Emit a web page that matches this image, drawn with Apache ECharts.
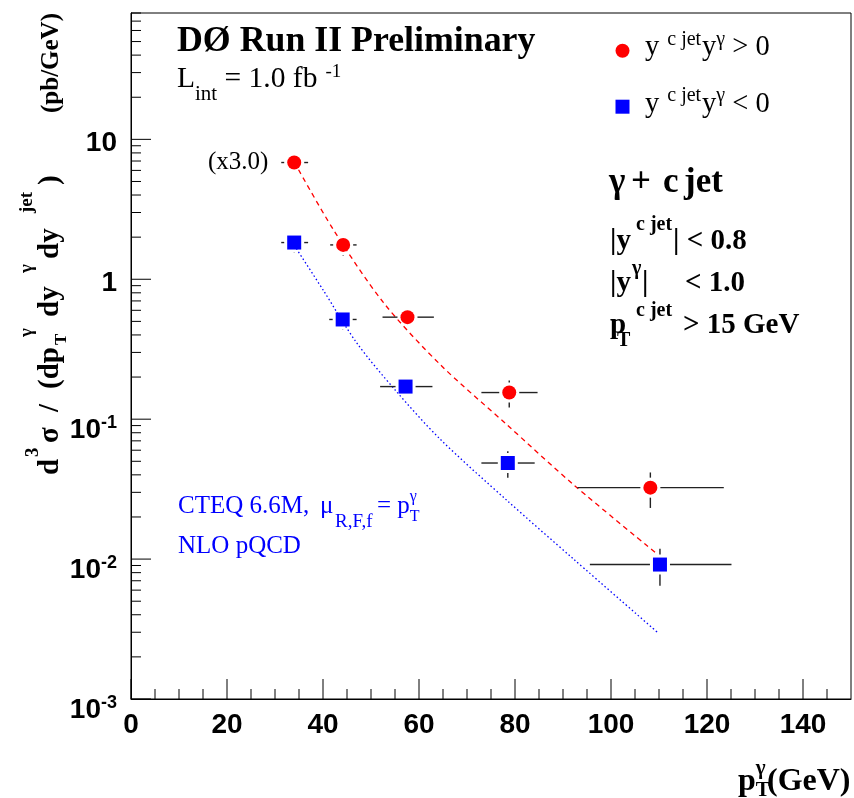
<!DOCTYPE html>
<html>
<head>
<meta charset="utf-8">
<script src="https://cdn.jsdelivr.net/npm/echarts@6/dist/echarts.min.js"></script>
<style>
  html, body { margin: 0; padding: 0; background: #fff; }
  #chart { width: 854px; height: 798px; }
</style>
</head>
<body>
<div id="chart"></div>
<script>
// measured points, y^{c jet} y^gamma > 0 (red) and < 0 (blue)
var redX = [34.0, 44.2, 57.6, 78.8, 108.2];
var redY = [6.83, 1.76, 0.536, 0.155, 0.0324];
var redXLo = [31.3, 41.5, 52.4, 73.0, 93.0];
var redXHi = [36.9, 47.0, 63.1, 84.7, 123.5];
var redYErr = [1.0, 0.28, 0.07, 0.034, 0.0092];

var blueX = [34.0, 44.1, 57.2, 78.5, 110.2];
var blueY = [1.83, 0.516, 0.171, 0.0486, 0.00914];
var blueXLo = [31.3, 41.3, 51.9, 73.0, 95.6];
var blueXHi = [36.9, 47.0, 62.8, 84.1, 125.1];
var blueYErr = [0.28, 0.08, 0.025, 0.0105, 0.0027];

// NLO pQCD curves
var redCurveX = [34.0, 42.1, 52.6, 64.4, 78.3, 92.2, 109.6];
var redCurveY = [6.9, 2.28, 0.681, 0.246, 0.0914, 0.034, 0.0109];
var blueCurveX = [34.0, 40.1, 47.0, 55.0, 64.4, 78.3, 92.2, 109.9];
var blueCurveY = [1.75, 0.83, 0.352, 0.162, 0.072, 0.0263, 0.0100, 0.00295];

// axis ticks
var xMajorTicks = [0, 20, 40, 60, 80, 100, 120, 140];
var xMinorTicks = [];
for (var t = 5; t < 150; t += 5) if (t % 20 !== 0) xMinorTicks.push(t);
var yDecades = [-3, -2, -1, 0, 1];
var yMax = 80;

var dom = document.getElementById('chart');
var myChart = echarts.init(dom);

function pairs(xs, ys) {
    return xs.map(function (x, i) { return [x, ys[i]]; });
}
function bars(xs, ys, lo, hi, err) {
    return xs.map(function (x, i) { return [x, ys[i], lo[i], hi[i], ys[i] - err[i], ys[i] + err[i]]; });
}

var tickData = [];
xMajorTicks.forEach(function (v) { tickData.push([v, 0.001, 20, 0]); });
xMinorTicks.forEach(function (v) { tickData.push([v, 0.001, 10, 0]); });
yDecades.forEach(function (e) {
    for (var m = 1; m <= 9; m++) {
        var v = m * Math.pow(10, e);
        if (v <= yMax) tickData.push([0, v, m === 1 ? 20 : 10, 1]);
    }
});

// text with sub/superscripts, baseline at (x, y)
var meas = document.createElement('canvas').getContext('2d');
function textWidth(t, size, bold, fam) {
    meas.font = (bold ? 'bold ' : '') + size + 'px "' + fam + '"';
    return meas.measureText(t).width;
}
function latex(x, y, parts, opt) {
    var fam = opt.font || 'Liberation Serif';
    var cx = 0, held = 0;
    var kids = [];
    parts.forEach(function (p) {
        var s = p.s || opt.size;
        var bold = p.bold !== undefined ? p.bold : !!opt.bold;
        if (p.x !== undefined) cx = p.x;
        cx += p.dx || 0;
        var w = textWidth(p.t, s, bold, fam);
        kids.push({
            type: 'text', x: cx, y: -(p.dy || 0) - 0.34 * s,
            style: {
                text: p.t, fontSize: s, fontFamily: fam,
                fontWeight: bold ? 'bold' : 'normal',
                fill: opt.color || '#000', align: 'left', verticalAlign: 'middle'
            }
        });
        if (p.keep) { held = Math.max(held, w); } else { cx += Math.max(w, held); held = 0; }
    });
    return { type: 'group', x: x, y: y, rotation: opt.rot || 0, children: kids };
}

var texts = [
    latex(177, 53.5, [{ t: 'DØ Run II Preliminary' }], { size: 35.8, bold: true }),
    latex(177, 89, [
        { t: 'L' }, { t: 'int', s: 21, dy: -13 },
        { t: ' = 1.0 fb' }, { t: '-1', s: 19, dy: 11, dx: 8 }
    ], { size: 29.5 }),
    latex(645, 57.5, [
        { t: 'y' }, { t: 'c jet', s: 20, dy: 11, dx: 8 },
        { t: 'y', dx: 1 }, { t: 'γ', s: 20, dy: 11 }, { t: ' > 0' }
    ], { size: 28.5 }),
    latex(645, 114, [
        { t: 'y' }, { t: 'c jet', s: 20, dy: 11, dx: 8 },
        { t: 'y', dx: 1 }, { t: 'γ', s: 20, dy: 11 }, { t: ' < 0' }
    ], { size: 28.5 }),
    latex(609, 195, [
        { t: 'γ', x: 0 }, { t: '+', x: 22 }, { t: 'c', x: 54 }, { t: 'jet', x: 75 }
    ], { size: 35, bold: true }),
    latex(610, 251.5, [
        { t: '|y', x: 0 }, { t: 'c jet', s: 20, dy: 20, x: 26 }, { t: '| < 0.8', x: 63 }
    ], { size: 29, bold: true }),
    latex(610, 293.5, [
        { t: '|y', x: 0 }, { t: 'γ', s: 20, dy: 18, x: 22 }, { t: '|', x: 32 }, { t: '< 1.0', x: 75 }
    ], { size: 29, bold: true }),
    latex(610, 335, [
        { t: 'p', x: 0 }, { t: 'T', s: 20, dy: -13, x: 7 }, { t: 'c jet', s: 20, dy: 17, x: 26 },
        { t: '> 15 GeV', x: 73 }
    ], { size: 29, bold: true }),
    latex(208, 170.5, [{ t: '(x3.0)' }], { size: 25 }),
    latex(178, 515, [
        { t: 'CTEQ 6.6M,' }, { t: 'μ', x: 142 }, { t: 'R,F,f', s: 19, dy: -13, x: 157 },
        { t: '= p', x: 199 }, { t: 'T', s: 16, dy: -7, keep: true }, { t: 'γ', s: 16, dy: 13 }
    ], { size: 25, color: '#0000ff' }),
    latex(178, 555, [{ t: 'NLO pQCD' }], { size: 25, color: '#0000ff' }),
    latex(738, 793, [
        { t: 'p' }, { t: 'T', s: 21, dy: -5, keep: true }, { t: 'γ', s: 21, dy: 17 },
        { t: '(GeV)', x: 29 }
    ], { size: 32, bold: true }),
    latex(60, 475, [
        { t: 'd', x: 0 }, { t: '3', s: 19, dy: 20, x: 18 }, { t: 'σ', x: 32 }, { t: '/', x: 63 },
        { t: '(dp', x: 86 }, { t: 'T', s: 17, dy: -7, x: 130 }, { t: 'γ', s: 19, dy: 26, x: 138 },
        { t: 'dy', x: 158 }, { t: 'γ', s: 19, dy: 26, x: 202 },
        { t: 'dy', x: 216 }, { t: 'jet', s: 19, dy: 26, x: 262 }, { t: ')', x: 290 },
        { t: '(pb/GeV)', s: 25, x: 362 }
    ], { size: 29, bold: true, rot: Math.PI / 2 }),
    { type: 'circle', shape: { cx: 622.5, cy: 50.7, r: 7 }, style: { fill: '#ff0000' } },
    { type: 'rect', shape: { x: 615.5, y: 99.7, width: 14, height: 14 }, style: { fill: '#0000ff' } }
];

var labelFont = { fontSize: 28, fontWeight: 'bold', fontFamily: 'Liberation Sans', color: '#000' };

function errorBarItem(params, api) {
    var x = api.value(0), y = api.value(1);
    var c = api.coord([x, y]);
    var l = api.coord([api.value(2), y]);
    var r = api.coord([api.value(3), y]);
    var b = api.coord([x, api.value(4)]);
    var t = api.coord([x, api.value(5)]);
    var gap = 10;
    var segs = [];
    if (c[0] - l[0] > gap) segs.push([l[0], c[1], c[0] - gap, c[1]]);
    if (r[0] - c[0] > gap) segs.push([c[0] + gap, c[1], r[0], c[1]]);
    if (c[1] - t[1] > gap) segs.push([c[0], t[1], c[0], c[1] - gap]);
    if (b[1] - c[1] > gap) segs.push([c[0], c[1] + gap, c[0], b[1]]);
    return {
        type: 'group',
        children: segs.map(function (s) {
            return { type: 'line', shape: { x1: s[0], y1: s[1], x2: s[2], y2: s[3] },
                     style: { stroke: '#222', lineWidth: 1.4 } };
        })
    };
}

option = {
    animation: false,
    backgroundColor: '#fff',
    grid: { left: 131, top: 13, width: 720, height: 686, show: true, borderColor: '#000', borderWidth: 1 },
    xAxis: {
        type: 'value', min: 0, max: 150, interval: 20,
        axisLine: { lineStyle: { color: '#000', width: 1 } },
        axisTick: { show: false },
        splitLine: { show: false },
        axisLabel: Object.assign({
            margin: 12,
            formatter: function (v) { return (v % 20 === 0 && v <= 140) ? String(v) : ''; }
        }, labelFont)
    },
    yAxis: {
        type: 'log', logBase: 10, min: 0.001, max: yMax,
        axisLine: { lineStyle: { color: '#000', width: 1 } },
        axisTick: { show: false },
        splitLine: { show: false },
        axisLabel: {
            margin: 14,
            formatter: function (v) {
                var e = Math.round(Math.log10(v));
                if (Math.abs(v / Math.pow(10, e) - 1) > 1e-6) return '';
                if (e >= 0) return '{p|' + Math.pow(10, e) + '}';
                return '{b|10}{s|' + e + '}';
            },
            rich: {
                p: Object.assign({ padding: [8, 0, 0, 0] }, labelFont),
                b: Object.assign({ padding: [22, 0, 0, 0] }, labelFont),
                s: { fontSize: 18, fontWeight: 'bold', fontFamily: 'Liberation Sans', color: '#000',
                     verticalAlign: 'top', padding: [20, 0, 0, 0] }
            }
        }
    },
    graphic: texts,
    series: [
        {
            name: 'ticks', type: 'custom', silent: true, z: 1,
            data: tickData,
            renderItem: function (params, api) {
                var p = api.coord([api.value(0), api.value(1)]);
                var len = api.value(2);
                var shape = api.value(3) === 0
                    ? { x1: p[0], y1: p[1], x2: p[0], y2: p[1] - len }
                    : { x1: p[0], y1: p[1], x2: p[0] + len, y2: p[1] };
                return { type: 'line', shape: shape, style: { stroke: '#000', lineWidth: 1 } };
            }
        },
        {
            name: 'red curve', type: 'line', smooth: 0.3, showSymbol: false, z: 2,
            data: pairs(redCurveX, redCurveY),
            lineStyle: { color: '#ff0000', width: 1.3, type: [5, 4] }
        },
        {
            name: 'blue curve', type: 'line', smooth: 0.3, showSymbol: false, z: 2,
            data: pairs(blueCurveX, blueCurveY),
            lineStyle: { color: '#0000ff', width: 1.3, type: [1.5, 2.5] }
        },
        {
            name: 'red errors', type: 'custom', z: 3,
            data: bars(redX, redY, redXLo, redXHi, redYErr),
            renderItem: errorBarItem
        },
        {
            name: 'blue errors', type: 'custom', z: 3,
            data: bars(blueX, blueY, blueXLo, blueXHi, blueYErr),
            renderItem: errorBarItem
        },
        {
            name: 'y^{c jet}y^γ > 0', type: 'scatter', symbol: 'circle', symbolSize: 14, z: 4,
            data: pairs(redX, redY),
            itemStyle: { color: '#ff0000', opacity: 1 }
        },
        {
            name: 'y^{c jet}y^γ < 0', type: 'scatter', symbol: 'rect', symbolSize: 14, z: 4,
            data: pairs(blueX, blueY),
            itemStyle: { color: '#0000ff', opacity: 1 }
        }
    ]
};

myChart.setOption(option);
</script>
</body>
</html>
